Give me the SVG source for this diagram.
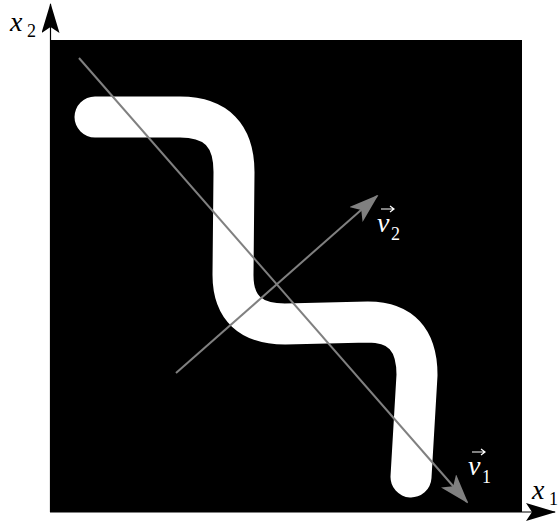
<svg xmlns="http://www.w3.org/2000/svg" width="558" height="525" viewBox="0 0 558 525">
<style>
.lbl{font-family:"Liberation Serif",serif;font-style:italic;font-size:28px}
.sub{font-family:"Liberation Serif",serif;font-size:18px}
.vec{stroke:#808080;stroke-width:2;fill:none}
.acc{stroke:#fff;stroke-width:1.2;fill:none}
</style>
<defs>
<marker id="ga" viewBox="0 0 30 20" refX="28" refY="10" markerWidth="30" markerHeight="20" markerUnits="userSpaceOnUse" orient="auto">
<path d="M0,0 L30,10 L0,20 L7,10 Z" fill="#808080"/>
</marker>
<marker id="ka" viewBox="0 0 30 18" refX="29" refY="9" markerWidth="30" markerHeight="18" markerUnits="userSpaceOnUse" orient="auto">
<path d="M0,0 L30,9 L0,18 L6,9 Z" fill="#000"/>
</marker>
</defs>
<rect id="image" x="50" y="40" width="472" height="472" fill="#000"/>
<g id="curve">
<path d="M95,117 L180,117 Q234,117 234,172 L233,275 Q233,324 285,324 L368,322 Q417,322 417,375 L411,477" fill="none" stroke="#fff" stroke-width="41" stroke-linecap="round" stroke-linejoin="round"/>
</g>
<g id="connectors">
<line x1="50.5" y1="512" x2="50.5" y2="4" stroke="#000" stroke-width="1.2" marker-end="url(#ka)"/>
<line x1="50" y1="512" x2="555" y2="512" stroke="#000" stroke-width="1.2" marker-end="url(#ka)"/>
<line class="vec" x1="79" y1="58" x2="467" y2="502" marker-end="url(#ga)"/>
<line class="vec" x1="176" y1="373" x2="377" y2="196" marker-end="url(#ga)"/>
</g>
<g id="label-x2">
<text class="lbl" x="10" y="31">x</text><text class="sub" x="27" y="37">2</text>
</g>
<g id="label-x1">
<text class="lbl" x="532" y="499">x</text><text class="sub" x="549" y="505">1</text>
</g>
<g id="label-v2">
<text class="lbl" x="377" y="232" fill="#fff">v</text><text class="sub" x="391" y="240" fill="#fff">2</text>
<path class="acc" d="M381,209 H394 M390,206 L394,209 L390,212"/>
</g>
<g id="label-v1">
<text class="lbl" x="468" y="475" fill="#fff">v</text><text class="sub" x="482" y="483" fill="#fff">1</text>
<path class="acc" d="M472,452 H485 M481,449 L485,452 L481,455"/>
</g>
</svg>
